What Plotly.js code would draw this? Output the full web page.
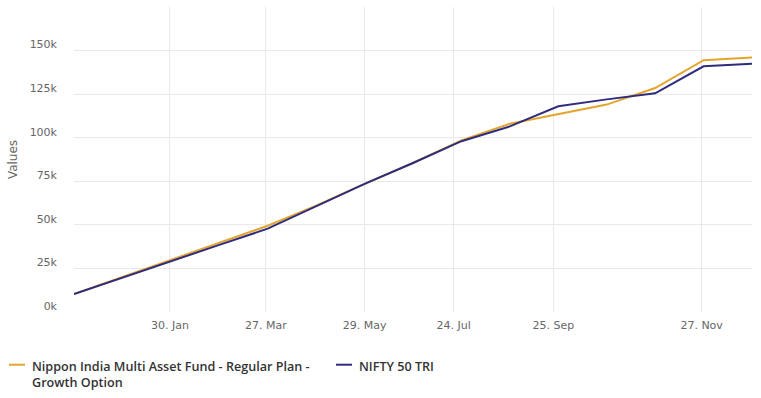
<!DOCTYPE html>
<html>
<head>
<meta charset="utf-8">
<script src="https://cdn.plot.ly/plotly-3.0.1.min.js"></script>
<style>html,body{margin:0;padding:0;background:#fff;}#chart{width:761px;height:398px;}</style>
</head>
<body>
<div id="chart"></div>
<script>
// Point index along the ordinal time axis (monthly SIP points)
var pointIndex = [0,1,2,3,4,5,6,7,8,9,10,11,12,13,14];
var fundValues = [10300,20000,30000,39500,49500,61000,73500,85500,98500,108000,113500,119000,128500,144500,146000];
var niftyValues = [10300,19800,29300,38500,47800,60500,73500,85500,98000,106500,118000,122000,125500,141000,142500];
var seriesNames = ["Nippon India Multi Asset Fund - Regular Plan -<br>Growth Option", "NIFTY 50 TRI"];
var seriesColors = ["#E3A52D", "#2E2C7E"];
// Date ticks on the ordinal axis (position in point-index units)
var tickPositions = [1.98, 3.96, 6.0, 7.84, 9.9, 12.96];
var tickLabels = ["30. Jan", "27. Mar", "29. May", "24. Jul", "25. Sep", "27. Nov"];
var yTickVals = [0, 25000, 50000, 75000, 100000, 125000, 150000, 175000];
var yTickText = ["0k", "25k", "50k", "75k", "100k", "125k", "150k", ""];

var fontFam = "'DejaVu Sans', 'Open Sans', sans-serif";
var legendFont = "'Open Sans', 'DejaVu Sans', sans-serif";
var traces = [fundValues, niftyValues].map(function (vals, i) {
  return {
    x: pointIndex, y: vals, type: "scatter", mode: "lines",
    name: seriesNames[i], line: {color: seriesColors[i], width: 2}, showlegend: false
  };
});

var legendX = [30, 357];
var shapes = [];
var annotations = [];
seriesNames.forEach(function (n, i) {
  shapes.push({type: "line", xref: "paper", yref: "paper",
    x0: (legendX[i] - 21 - 74) / 678, x1: (legendX[i] - 5 - 74) / 678,
    y0: (398 - 86 - 364.7) / 305, y1: (398 - 86 - 364.7) / 305,
    line: {color: seriesColors[i], width: 2}});
  annotations.push({xref: "paper", yref: "paper", x: (legendX[i] - 74) / 678,
    y: (398 - 86 - 356) / 305, xanchor: "left", yanchor: "top", align: "left",
    showarrow: false, text: n, font: {family: legendFont, size: 12.6, weight: 600, color: "#333333"}});
});

var layout = {
  width: 761, height: 398,
  margin: {l: 74, r: 9, t: 7, b: 86},
  paper_bgcolor: "#ffffff", plot_bgcolor: "#ffffff",
  showlegend: false,
  xaxis: {
    range: [0, 14], tickmode: "array", tickvals: tickPositions, ticktext: tickLabels,
    showgrid: true, gridcolor: "#e9e9e9", gridwidth: 1, zeroline: false, showline: false,
    ticks: "", ticklabelstandoff: 5, tickfont: {family: fontFam, size: 11, color: "#666666"}, fixedrange: true
  },
  yaxis: {
    range: [0, 175000], tickmode: "array", tickvals: yTickVals, ticktext: yTickText,
    showgrid: true, gridcolor: "#e9e9e9", gridwidth: 1, zeroline: false, showline: false,
    ticks: "", ticklabelstandoff: 16, ticklabelshift: -6, tickfont: {family: fontFam, size: 11, color: "#666666"},
    title: {text: "Values", font: {family: fontFam, size: 12, color: "#666666"}, standoff: 9}
  },
  shapes: shapes,
  annotations: annotations
};
Plotly.newPlot("chart", traces, layout, {displayModeBar: false, staticPlot: true});
</script>
</body>
</html>
